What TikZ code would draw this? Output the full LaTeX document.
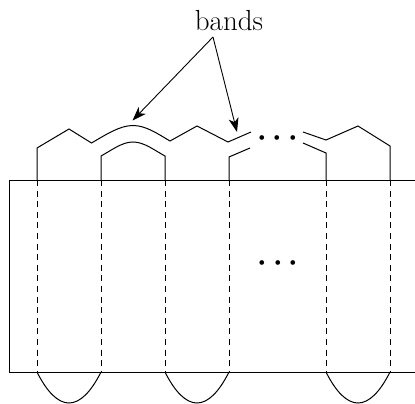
\documentclass[tikz,border=0pt]{standalone}
\usetikzlibrary{arrows.meta}
\tikzset{
  edge/.style={line width=1pt,black},
  dashline/.style={line width=1pt,black,dash pattern=on 6pt off 4.6pt},
  pointer/.style={line width=0.9pt,-{Stealth[length=14pt,width=10pt,inset=4pt]}},
  dotsnode/.style={inner sep=0pt,scale=3,font=\boldmath}
}
\begin{document}
\begin{tikzpicture}[x=1pt,y=-1pt]
\useasboundingbox (0,0) rectangle (415,404);
% labels
\node[inner sep=0pt,anchor=base] (bands) at (229,31) {\fontsize{29}{32}\selectfont bands};
\coordinate (apex) at (213,37);
\coordinate (tipa) at (132.5,120.5);
\coordinate (tipb) at (237,132);
\draw[pointer] (apex) -- (tipa);
\draw[pointer] (apex) -- (tipb);
% upper band
\draw[edge] (37,180) -- (37,148) -- (69,129) -- (91.5,143)
  .. controls (107,134) and (120,125.5) .. (133,125.5)
  .. controls (146,125.5) and (158,134) .. (170,141)
  -- (197,126) -- (228,142) -- (251,132);
\draw[edge] (303,132) -- (326,140) -- (358,126) -- (390,146) -- (390,180);
% inner band
\draw[edge] (101,180) -- (101,156)
  .. controls (112,150) and (122,142) .. (133,142)
  .. controls (144,142) and (154,150) .. (165,156) -- (165,180);
\draw[edge] (229,180) -- (229,157) -- (250,148);
\draw[edge] (303,143) -- (326,153) -- (326,180);
% disk
\draw[line width=1pt] (415,180) -- (9,180) -- (9,372) -- (415,372);
% dashes
\foreach \x in {37,101,165,229,326,390}
  \draw[dashline] (\x,180) -- (\x,372);
% bottom arcs
\foreach \x in {37,165,326}
  \draw[edge] (\x,372) .. controls (\x+10,392) and (\x+21,403) .. (\x+32,403)
    .. controls (\x+43,403) and (\x+54,392) .. (\x+64,372);
% dots
\node[dotsnode] (dotsa) at (277.5,138.5) {$\cdots$};
\node[dotsnode] (dotsb) at (278,263.5) {$\cdots$};
\end{tikzpicture}
\end{document}
